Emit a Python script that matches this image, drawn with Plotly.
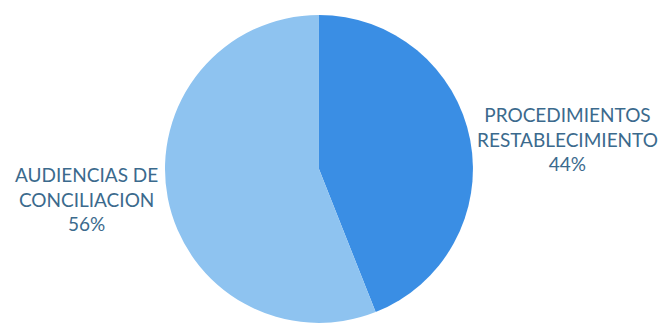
import plotly.graph_objects as go

labels = ["PROCEDIMIENTOS<br>RESTABLECIMIENTO", "AUDIENCIAS DE<br>CONCILIACION"]
values = [44, 56]
colors = ["#3a8ee4", "#8ec3f0"]

text_color = "#3b6a8d"
font_family = "Lato, 'Open Sans', sans-serif"

fig = go.Figure()

fig.add_trace(go.Pie(
    labels=labels,
    values=values,
    sort=False,
    direction="clockwise",
    rotation=0,
    marker=dict(colors=colors, line=dict(width=0)),
    textinfo="none",
    hoverinfo="label+percent",
    showlegend=False,
    domain=dict(x=[0.247, 0.708], y=[0.0, 0.954]),
))

# labels sit outside the pie, one each side
total = sum(values)
label_pos = [(0.849, 0.57), (0.129, 0.384)]
for lab, val, (px, py) in zip(labels, values, label_pos):
    fig.add_annotation(
        x=px, y=py, xref="paper", yref="paper",
        xanchor="center", yanchor="middle",
        text=f"{lab}<br>{round(100 * val / total)}%",
        showarrow=False,
        align="center",
        font=dict(family=font_family, size=19, color=text_color),
    )

fig.update_layout(
    width=668,
    height=323,
    margin=dict(l=0, r=0, t=0, b=0),
    paper_bgcolor="white",
    plot_bgcolor="white",
)

fig.write_html("out.html", config={"displayModeBar": False},
               post_script="document.body.style.margin='0';")
